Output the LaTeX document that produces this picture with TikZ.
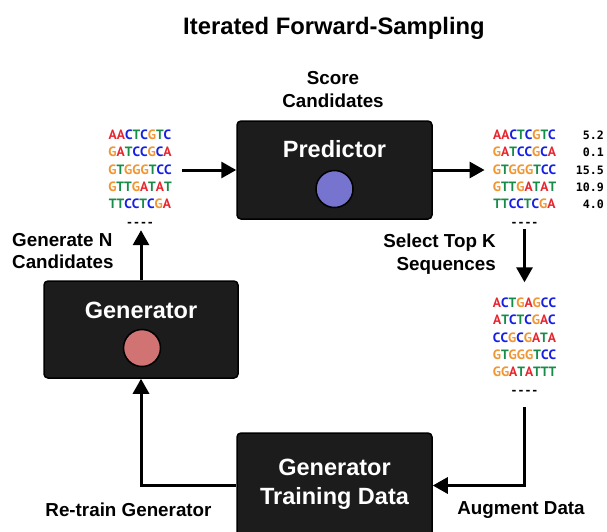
\documentclass[tikz,border=0pt]{standalone}
\usepackage{fontspec}
\setmainfont{Liberation Sans}
\newfontfamily\seqfont{PT Sans}
\newfontfamily\numfont{DejaVu Sans Mono}
\usetikzlibrary{arrows.meta}

\definecolor{ntA}{RGB}{232,38,48}
\definecolor{ntC}{RGB}{22,32,228}
\definecolor{ntG}{RGB}{240,150,52}
\definecolor{ntT}{RGB}{22,140,72}
\definecolor{boxfill}{RGB}{28,28,28}
\definecolor{predfill}{RGB}{118,116,206}
\definecolor{genfill}{RGB}{210,115,115}

\newcommand{\rowstrut}{\rule{0pt}{11pt}}
\newcommand{\dna}[1]{\rowstrut\dnaloop#1\relax}
\def\dnaloop#1{\ifx#1\relax\else\textcolor{nt#1}{#1}\expandafter\dnaloop\fi}
\newcommand{\dashrow}{\rowstrut{\numfont\bfseries\fontsize{11.5}{17.3}\selectfont ----}}
\newcommand{\score}[1]{\rowstrut#1}

\tikzset{
  seqblock/.style={font=\seqfont\bfseries\fontsize{13.5}{17.3}\selectfont, align=center, inner sep=0pt, anchor=north},
  scoreblock/.style={font=\numfont\bfseries\fontsize{11.6}{17.3}\selectfont, align=right, inner sep=0pt, anchor=north east},
  lbl/.style={font=\bfseries\fontsize{18.8}{22.5}\selectfont, align=center, inner sep=0pt},
  box/.style={draw=black, line width=1.5pt, fill=boxfill, rounded corners=4pt, inner sep=0pt},
  boxtxt/.style={text=white, font=\bfseries\fontsize{23.5}{29}\selectfont, align=center, inner sep=0pt},
  dot/.style={circle, draw=black, line width=1.5pt, minimum size=37pt, inner sep=0pt},
  flow/.style={-{Triangle[length=15pt,width=16pt]}, line width=3pt}
}

\begin{document}
\begin{tikzpicture}[x=1pt,y=-1pt]
\useasboundingbox (0,0) rectangle (607,531);

\node (title) at (334,28) [font=\bfseries\fontsize{23.8}{28}\selectfont] {Iterated Forward-Sampling};

% boxes
\node (predictor) at (334.5,170) [box, minimum width=195pt, minimum height=98pt] {};
\node (predtxt) at (334.5,149) [boxtxt] {Predictor};
\node (preddot) at (334.5,189) [dot, fill=predfill] {};

\node (generator) at (141,329.5) [box, minimum width=194pt, minimum height=97pt] {};
\node (gentxt) at (141,310) [boxtxt] {Generator};
\node (gendot) at (142,348) [dot, fill=genfill] {};

\node (data) at (334.5,485.5) [box, minimum width=195pt, minimum height=105pt] {};
\node (datatxt) at (334.5,484.5) [boxtxt] {Generator\\Training Data};

% sequences
\node (seqin) at (140,128.3) [seqblock]
  {\dna{AACTCGTC}\\ \dna{GATCCGCA}\\ \dna{GTGGGTCC}\\ \dna{GTTGATAT}\\ \dna{TTCCTCGA}\\ \dashrow};
\node (seqscored) at (524.5,128.3) [seqblock]
  {\dna{AACTCGTC}\\ \dna{GATCCGCA}\\ \dna{GTGGGTCC}\\ \dna{GTTGATAT}\\ \dna{TTCCTCGA}\\ \dashrow};
\node (scores) at (604,128.3) [scoreblock]
  {\score{5.2}\\ \score{0.1}\\ \score{15.5}\\ \score{10.9}\\ \score{4.0}};
\node (seqtop) at (524.5,296.3) [seqblock]
  {\dna{ACTGAGCC}\\ \dna{ATCTCGAC}\\ \dna{CCGCGATA}\\ \dna{GTGGGTCC}\\ \dna{GGATATTT}\\ \dashrow};

% labels
\node (scorelbl) at (333,89.5) [lbl] {Score\\Candidates};
\node (genlbl) at (12,251) [lbl, anchor=west, align=left] {Generate N\\Candidates};
\node (selectlbl) at (496,254) [lbl, anchor=east, align=right] {Select Top K\\Sequences};
\node (retrainlbl) at (128.5,510) [lbl] {Re-train Generator};
\node (augmentlbl) at (521,510) [lbl] {Augment Data};

% arrows
\draw[flow, shorten <=10pt] (seqin.east |- predictor.west) -- (predictor.west);
\draw[flow, shorten >=8pt] (predictor.east) -- (seqscored.west |- predictor.east);
\draw[flow, shorten <=3pt, shorten >=14pt] (seqscored.south) -- (seqtop.north);
\draw[flow, shorten <=13pt] (seqtop.south) |- (data.east);
\draw[flow] (data.west) -| (generator.south);
\draw[flow, shorten >=4pt] (generator.north) -- (generator.north |- seqin.south);
\end{tikzpicture}
\end{document}
